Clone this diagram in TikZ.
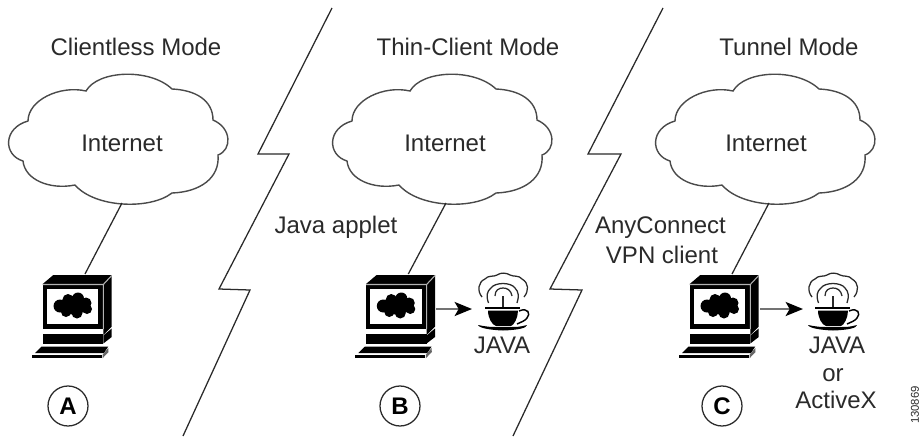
\documentclass[tikz,border=0pt]{standalone}
\usepackage{fontspec}
\setmainfont{Liberation Sans}
\usetikzlibrary{arrows.meta}
\definecolor{ink}{HTML}{2A2A2A}
\tikzset{
  x=0.75pt,y=-0.75pt,
  lbl/.style={font=\fontsize{18}{20}\selectfont,text=ink,inner sep=0pt,align=center},
  letter/.style={draw=ink,line width=0.95pt,circle,minimum size=30pt,inner sep=0pt,font=\fontsize{18}{20}\selectfont\bfseries,text=black},
  wire/.style={draw=ink,line width=0.95pt},
  zig/.style={draw=ink,line width=0.95pt,line join=miter},
  cloudline/.style={draw=ink!85,line width=1.05pt,fill=white},
  sep/.style={draw=white!70!black,line width=0.8pt},
  steam/.style={draw=ink,line width=0.95pt},
  toarrow/.style={draw=black!55,line width=1.7pt,-{Stealth[length=13pt,width=10.5pt,inset=3pt,black]}}
}
\newcommand{\netcloud}[2]{%
\begin{scope}[shift={(#1,0)}]
\draw[cloudline] (86,91) .. controls (98,70) and (150,68) .. (172,89)
  .. controls (195,90) and (213,100) .. (213,120)
  .. controls (232,128) and (232,150) .. (218,155)
  .. controls (220,178) and (200,192) .. (172,193)
  .. controls (150,210) and (95,208) .. (75,185)
  .. controls (50,190) and (25,180) .. (23,161)
  .. controls (3,155) and (3,128) .. (28,121)
  .. controls (28,100) and (60,85) .. (86,91) -- cycle;
\coordinate (#2-bottom) at (122,203);
\end{scope}}
\newcommand{\pcbox}[2]{%
\begin{scope}[shift={(#1,0)}]
\fill[black] (42.7,284) -- (53.3,275) -- (111.7,275) -- (111.7,326.7) -- (103.3,335) -- (103.3,284) -- cycle;
\fill[black] (42.7,284) rectangle (103.3,328.5);
\fill[white] (46.7,289.3) rectangle (98.3,324);
\draw[sep] (42.7,284.5) -- (103.3,284.5) -- (111.7,275.5) (103.3,284.5) -- (103.3,329);
\fill[black] (72.7,306) ellipse [x radius=15,y radius=8.5];
\fill[black] (60,306) circle (6.5) (68,299.5) circle (5.5) (78,298.5) circle (6) (86,303) circle (5.5) (87,309) circle (5)
  (77,313) circle (5.5) (66,312) circle (5);
\fill[black] (42.7,333.5) rectangle (103.3,343.5);
\fill[black] (103.3,335.5) -- (111.7,328.5) -- (111.7,337) -- (103.3,343.5) -- cycle;
\fill[black] (41.7,346.5) -- (108.3,346.5) -- (104,353) -- (35,353) -- cycle;
\fill[black] (31.7,354.8) rectangle (101.7,358.3);
\fill[black!60] (102.5,354.8) -- (108.3,348) -- (108.5,352) -- (102.5,358.3) -- cycle;
\coordinate (#2-top) at (85,274);
\coordinate (#2-right) at (113,309);
\end{scope}}
\newcommand{\javacup}[1]{%
\begin{scope}[shift={(#1,0)}]
\draw[steam] (482,297) .. controls (477,291) and (478,282) .. (485,279)
  .. controls (488,275) and (494,277) .. (497,275) .. controls (501,272) and (507,273) .. (510,275)
  .. controls (514,277) and (519,275) .. (522,279) .. controls (529,283) and (529,291) .. (524,297);
\draw[steam] (488.5,303) .. controls (486,296) and (487,291) .. (491,288)
  .. controls (495,282) and (511,282) .. (515,288) .. controls (519,292) and (519,297) .. (517,303);
\draw[steam] (495,296) .. controls (495,290) and (499,288) .. (503,288) .. controls (507,288) and (511,290) .. (512,296);
\draw[steam] (503,296) -- (503,307);
\draw[black,line width=1.5pt] (485,308) -- (520,308);
\fill[black] (488,310.5) -- (518,310.5) .. controls (518,318) and (514,325) .. (511,326) -- (496,326) .. controls (492,325) and (488,318) .. (488,310.5) -- cycle;
\draw[black,line width=1.1pt] (519,311) .. controls (528,307) and (531,314) .. (527,318) .. controls (525,321) and (521,322) .. (517,324);
\fill[black] (478,325) .. controls (488,327) and (492,327) .. (496,327) -- (511,327) .. controls (516,327) and (520,327) .. (527,325)
  .. controls (527,328) and (518,330) .. (503,330.5) .. controls (490,330) and (479,328) .. (478,325) -- cycle;
\end{scope}}
\begin{document}
\begin{tikzpicture}
\useasboundingbox (0,0) rectangle (920,436);
% dividers
\coordinate (z1) at (332,8); \coordinate (z2) at (258,154); \coordinate (z3) at (289,154);
\coordinate (z4) at (219,289); \coordinate (z5) at (250,290); \coordinate (z6) at (183,436);
\draw[zig] (z1) -- (z2) -- (z3) -- (z4) -- (z5) -- (z6);
\coordinate (y1) at (663,8); \coordinate (y2) at (588,154); \coordinate (y3) at (621,154);
\coordinate (y4) at (550,289); \coordinate (y5) at (582,290); \coordinate (y6) at (513,436);
\draw[zig] (y1) -- (y2) -- (y3) -- (y4) -- (y5) -- (y6);
% clouds
\netcloud{0}{cA}\netcloud{324}{cB}\netcloud{647}{cC}
% computers
\pcbox{0}{pA}\pcbox{323.3}{pB}\pcbox{647}{pC}
% cups
\javacup{0}\javacup{330}
% connectors
\coordinate (aB) at (472,309); \coordinate (aC) at (803,309);
\draw[wire] (cA-bottom) -- (pA-top);
\draw[wire] (cB-bottom) -- (pB-top);
\draw[wire] (cC-bottom) -- (pC-top);
\draw[toarrow] (pB-right) -- (aB);
\draw[toarrow] (pC-right) -- (aC);
% labels
\node[lbl] (t1) at (136,47) {Clientless Mode};
\node[lbl] (t2) at (468,47) {Thin-Client Mode};
\node[lbl] (t3) at (789,47) {Tunnel Mode};
\node[lbl] (n1) at (122,143) {Internet};
\node[lbl] (n2) at (445,143) {Internet};
\node[lbl] (n3) at (766,143) {Internet};
\node[lbl] (ja) at (336,227) {Java applet};
\node[lbl] (ac) at (660.5,228) {AnyConnect};
\node[lbl] (vpn) at (662,255) {VPN client};
\node[lbl] (jv1) at (502,345) {JAVA};
\node[lbl] (jv2) at (837,345) {JAVA};
\node[lbl] (orr) at (833,375) {or};
\node[lbl] (ax) at (836,400) {ActiveX};
\node[letter] (la) at (68,406) {A};
\node[letter] (lb) at (400,406) {B};
\node[letter] (lc) at (722,406) {C};
\node[font=\fontsize{8.5}{9}\selectfont,text=ink,rotate=90,inner sep=0pt] (id) at (915,405) {130869};
\end{tikzpicture}
\end{document}
